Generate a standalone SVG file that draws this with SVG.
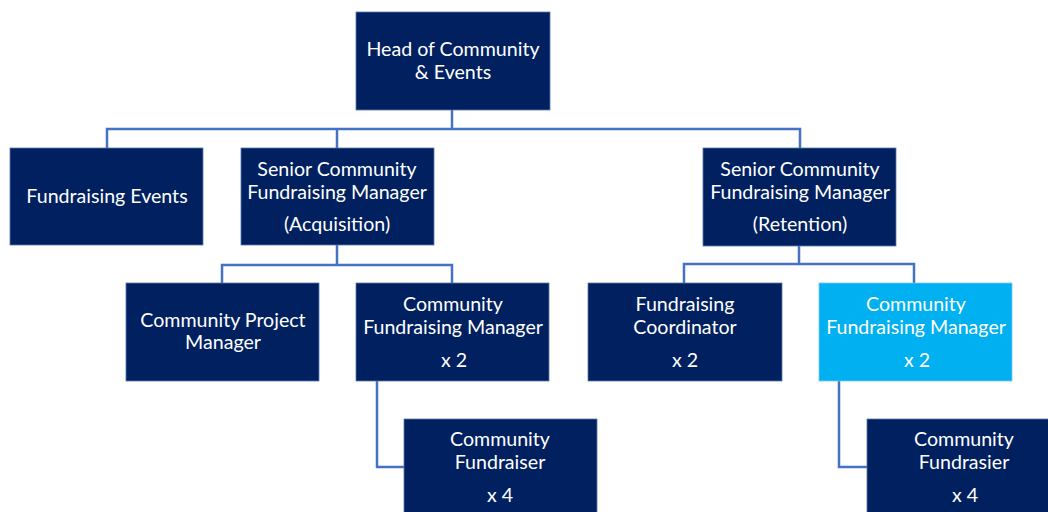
<svg xmlns="http://www.w3.org/2000/svg" width="1048" height="512" viewBox="0 0 1048 512">
<style>
.box{fill:#002060;stroke:#5a78b4;stroke-width:0.8}
.hl{fill:#00B0F0;stroke:#7fc8f0;stroke-width:0.8}
.t{font-family:Lato,"Liberation Sans",sans-serif;font-size:19.6px;fill:#ffffff;text-anchor:middle}
.c{fill:none;stroke:#4472C4;stroke-width:2.5}
</style>
<rect width="1048" height="512" fill="#ffffff"/>
<g id="connectors">
<path class="c" d="M452 110 V129 M107 148 V129 H800 V148 M337 129 V148"/>
<path class="c" d="M337 245 V265 M222 283 V265 H452 V283"/>
<path class="c" d="M799 246 V264 M684 283 V264 H914 V283"/>
<path class="c" d="M377 381 V467 H404"/>
<path class="c" d="M839 381 V467 H867"/>
</g>
<g id="head">
<rect class="box" x="356" y="12" width="194" height="98"/>
<text class="t" x="453" y="56">Head of Community</text>
<text class="t" x="453" y="79">&amp; Events</text>
</g>
<g id="fundraising-events">
<rect class="box" x="10" y="148" width="193" height="97"/>
<text class="t" x="107" y="203">Fundraising Events</text>
</g>
<g id="senior-acquisition">
<rect class="box" x="241" y="148" width="193" height="97"/>
<text class="t" x="337" y="176">Senior Community</text>
<text class="t" x="337" y="199">Fundraising Manager</text>
<text class="t" x="337" y="231">(Acquisition)</text>
</g>
<g id="senior-retention">
<rect class="box" x="703" y="148" width="193" height="98"/>
<text class="t" x="800" y="176">Senior Community</text>
<text class="t" x="800" y="199">Fundraising Manager</text>
<text class="t" x="800" y="231">(Retention)</text>
</g>
<g id="community-project-manager">
<rect class="box" x="126" y="283" width="193" height="98"/>
<text class="t" x="223" y="327">Community Project</text>
<text class="t" x="223" y="349">Manager</text>
</g>
<g id="cfm-acquisition">
<rect class="box" x="356" y="283" width="193" height="98"/>
<text class="t" x="453" y="311">Community</text>
<text class="t" x="453" y="334">Fundraising Manager</text>
<text class="t" x="454" y="367">x 2</text>
</g>
<g id="fundraising-coordinator">
<rect class="box" x="588" y="283" width="194" height="98"/>
<text class="t" x="685" y="311">Fundraising</text>
<text class="t" x="685" y="334">Coordinator</text>
<text class="t" x="685" y="367">x 2</text>
</g>
<g id="cfm-retention">
<rect class="hl" x="819" y="283" width="193" height="98"/>
<text class="t" x="916" y="311">Community</text>
<text class="t" x="916" y="334">Fundraising Manager</text>
<text class="t" x="917" y="367">x 2</text>
</g>
<g id="community-fundraiser">
<rect class="box" x="404" y="419" width="193" height="100"/>
<text class="t" x="500" y="446">Community</text>
<text class="t" x="500" y="469">Fundraiser</text>
<text class="t" x="500" y="502">x 4</text>
</g>
<g id="community-fundrasier">
<rect class="box" x="867" y="419" width="193" height="100"/>
<text class="t" x="964" y="446">Community</text>
<text class="t" x="964" y="469">Fundrasier</text>
<text class="t" x="965" y="502">x 4</text>
</g>
</svg>
